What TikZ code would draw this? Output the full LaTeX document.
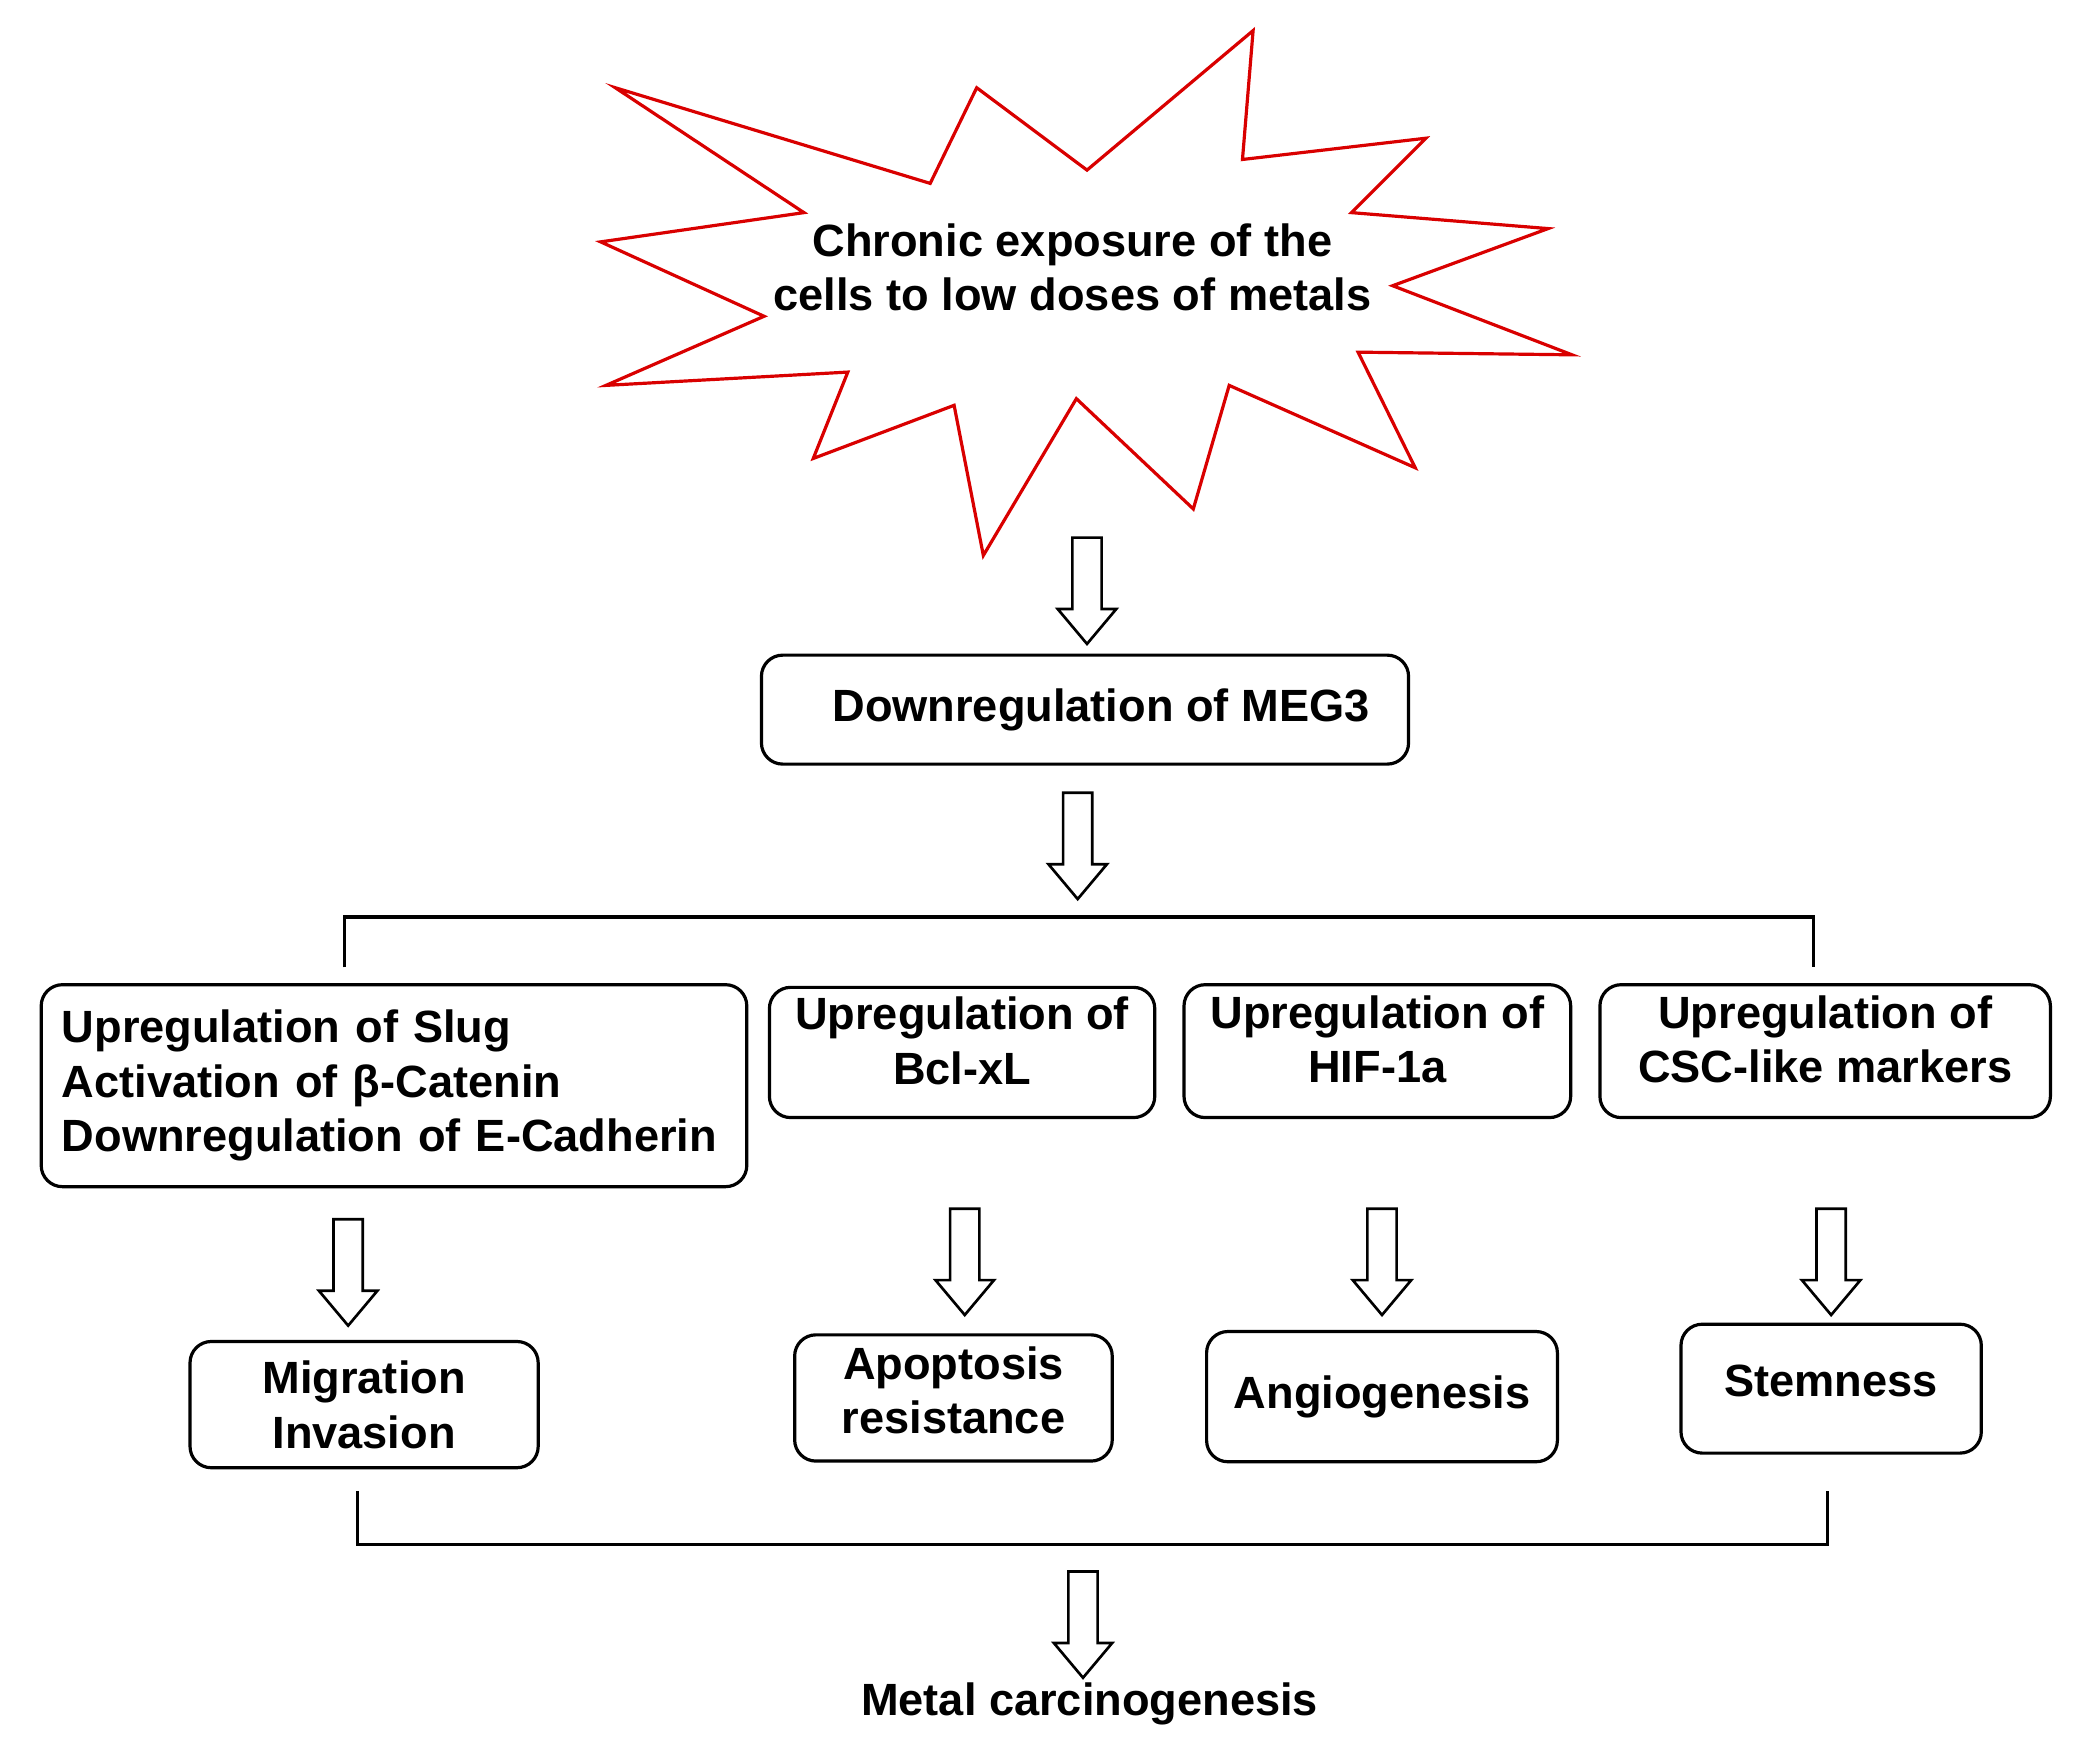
\documentclass[tikz,border=0pt]{standalone}
\usepackage{fontspec}
\setmainfont{Liberation Sans}
\usetikzlibrary{shapes.arrows}
\begin{document}
\begin{tikzpicture}[x=0.5pt,y=-0.5pt,
 box/.style={draw,line width=1.2pt,rounded corners=8pt,inner sep=2pt,font=\bfseries\fontsize{17}{20.5}\selectfont},
 txt/.style={font=\bfseries\fontsize{17}{20.5}\selectfont,align=center},
 barrow/.style={draw,line width=1pt,single arrow,shape border rotate=270,inner sep=5pt,single arrow head extend=5.5pt,single arrow tip angle=80,minimum height=40pt}]
\useasboundingbox (0,0) rectangle (1560,1314);
\draw[red!85!black,line width=1.2pt] (463,66) -- (700,138) -- (735,66) -- (818,128) -- (943,23) -- (935,120) -- (1073,104) -- (1017,160) -- (1165,172) -- (1048,215) -- (1183,267) -- (1022,265) -- (1065,352) -- (925,290) -- (898,383) -- (810,300) -- (740,418) -- (718,305) -- (612,345) -- (638,280) -- (456,290) -- (575,238) -- (452,182) -- (605,160) -- cycle;
\node[txt] (star) at (807,201) {Chronic exposure of the\\cells to low doses of metals};
\node[barrow] (a1) at (818,438) {};
\node[box,minimum width=243.5pt,minimum height=41pt] (meg) at (816.5,534) {\hspace*{12pt}Downregulation of MEG3};
\node[barrow] (a2) at (811,630) {};
\coordinate (tl) at (259,728); \coordinate (tr) at (1365,728);
\draw[line width=1.2pt] (tl) -- (259,690) -- (1365,690) -- (tr);
\node[box,minimum width=265.5pt,minimum height=76pt,align=left,text width=250pt,xshift=3.5pt] (A) at (289.5,817) {Upregulation of Slug\\Activation of β-Catenin\\Downregulation of E-Cadherin};
\node[box,minimum width=145pt,minimum height=49pt,align=center,text depth=9pt] (B) at (724,792) {Upregulation of\\Bcl-xL};
\node[box,minimum width=145.5pt,minimum height=50pt,align=center,text depth=9pt] (C) at (1036.5,791) {Upregulation of\\HIF-1a};
\node[box,minimum width=169.5pt,minimum height=50pt,align=center,text depth=9pt] (D) at (1373.5,791) {Upregulation of\\CSC-like markers};
\node[barrow] (b1) at (262,951) {};
\node[barrow] (b2) at (726,943) {};
\node[barrow] (b3) at (1040,943) {};
\node[barrow] (b4) at (1378,943) {};
\node[box,minimum width=131pt,minimum height=47.5pt,align=center] (E) at (274,1057) {Migration\\Invasion};
\node[box,minimum width=119.5pt,minimum height=47.5pt,align=center,text depth=6pt] (F) at (717.5,1052) {Apoptosis\\resistance};
\node[box,minimum width=132pt,minimum height=49pt] (G) at (1040,1051) {\raisebox{3pt}{Angiogenesis}};
\node[box,minimum width=113pt,minimum height=48.5pt] (H) at (1378,1045) {\raisebox{6pt}{Stemness}};
\coordinate (bl) at (269,1122); \coordinate (br) at (1375,1122);
\draw[line width=1.2pt] (bl) -- (269,1162) -- (1375,1162) -- (br);
\node[barrow] (c1) at (815,1216) {};
\node[txt] (mc) at (820,1282) {Metal carcinogenesis};
\end{tikzpicture}
\end{document}
